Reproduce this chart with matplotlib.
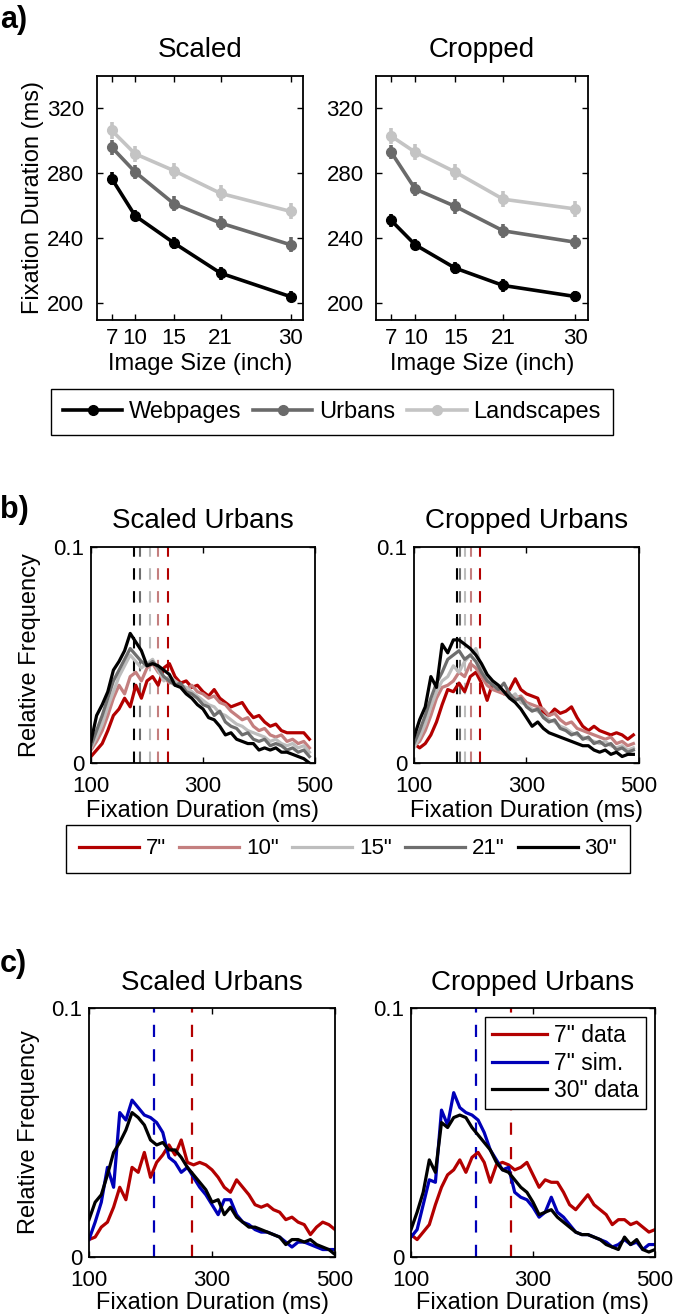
import numpy as np
import matplotlib.pyplot as plt

plt.rcParams['font.family'] = ['Liberation Sans', 'DejaVu Sans']

# ---- panel a: mean fixation duration (ms) per image size ----
sizes = [7, 10, 15, 21, 30]
scaled_web = [276.7, 253.8, 237.0, 218.4, 203.9]
scaled_urb = [296.0, 280.8, 261.2, 249.3, 235.9]
scaled_land = [306.4, 292.0, 281.6, 267.6, 256.5]
cropped_web = [250.9, 235.9, 221.5, 210.8, 204.0]
cropped_urb = [293.0, 270.3, 259.6, 244.5, 237.5]
cropped_land = [302.9, 293.0, 280.8, 264.0, 258.0]
err_web = [4.0, 3.5, 3.5, 4.0, 3.5]
err_urb = [4.5, 4.5, 4.5, 4.5, 4.5]
err_land = [5.0, 5.0, 5.0, 5.0, 5.0]

# ---- panel b: fixation duration histograms (relative frequency x 1000) ----
bins_b = [100, 110, 120, 130, 140, 150, 160, 170, 180, 190,
          200, 210, 220, 230, 240, 250, 260, 270, 280, 290,
          300, 310, 320, 330, 340, 350, 360, 370, 380, 390,
          400, 410, 420, 430, 440, 450, 460, 470, 480, 490]
size_labels = ['7"', '10"', '15"', '21"', '30"']

sc_7 = [3, 6, 9, 15, 22, 25, 30, 26, 36, 30, 38, 40, 36, 44, 46, 40, 37, 38, 35, 36,
        33, 31, 34, 30, 28, 26, 27, 28, 24, 21, 22, 19, 17, 18, 15, 14, 14, 14, 14, 11]
sc_10 = [6, 10, 15, 22, 30, 36, 32, 40, 42, 38, 44, 46, 42, 40, 37, 38, 36, 34, 36, 33,
         32, 30, 31, 28, 27, 24, 22, 20, 21, 17, 15, 16, 13, 12, 13, 10, 11, 9, 10, 7]
sc_15 = [7, 12, 18, 26, 33, 40, 45, 50, 47, 44, 46, 48, 43, 38, 40, 38, 36, 35, 33, 31,
         29, 27, 26, 23, 22, 20, 18, 17, 15, 14, 13, 12, 10, 11, 9, 8, 9, 7, 8, 5]
sc_21 = [8, 15, 22, 30, 38, 43, 48, 53, 50, 47, 45, 47, 44, 40, 38, 36, 37, 33, 32, 30,
         27, 26, 22, 24, 19, 17, 16, 13, 14, 11, 10, 11, 8, 9, 8, 6, 7, 5, 6, 3]
sc_30 = [10, 22, 27, 33, 43, 47, 52, 60, 56, 52, 45, 46, 45, 43, 41, 36, 35, 32, 30, 27,
         25, 21, 20, 17, 13, 14, 11, 10, 9, 9, 6, 7, 6, 7, 5, 5, 4, 3, 2, 0]

cr_7 = [9, 7, 9, 13, 19, 27, 34, 33, 37, 33, 40, 42, 37, 29, 37, 35, 32, 34, 39, 34,
        32, 31, 30, 23, 22, 25, 23, 24, 26, 21, 17, 15, 17, 15, 14, 13, 14, 13, 11, 13]
cr_10 = [8, 10, 15, 22, 30, 35, 36, 38, 42, 40, 46, 44, 40, 36, 34, 33, 32, 31, 30, 31,
         28, 27, 26, 25, 22, 23, 20, 18, 19, 16, 15, 14, 13, 12, 11, 12, 9, 10, 8, 9]
cr_15 = [7, 12, 18, 26, 33, 38, 40, 45, 42, 47, 50, 53, 44, 40, 37, 35, 33, 30, 32, 28,
         27, 25, 24, 22, 20, 19, 17, 16, 14, 13, 12, 11, 10, 9, 10, 8, 7, 8, 6, 7]
cr_21 = [9, 15, 22, 30, 37, 42, 48, 50, 52, 48, 50, 47, 42, 38, 36, 34, 37, 32, 29, 30,
         26, 24, 25, 21, 19, 20, 16, 15, 13, 14, 11, 12, 9, 10, 8, 9, 6, 7, 5, 6]
cr_30 = [12, 20, 26, 40, 35, 55, 51, 57, 57, 55, 53, 50, 46, 41, 38, 36, 33, 30, 28, 25,
         21, 17, 19, 16, 14, 13, 12, 11, 10, 9, 8, 8, 6, 5, 6, 4, 5, 3, 4, 4]

# dashed lines: medians (ms), order 7", 10", 15", 21", 30"
med_scaled = [237, 219, 205, 188, 177]
med_cropped = [217, 202, 190, 181, 176]

# ---- panel c: data vs simulation (relative frequency x 1000) ----
bins_c = [100, 110, 120, 130, 140, 150, 160, 170, 180, 190,
          200, 210, 220, 230, 240, 250, 260, 270, 280, 290,
          300, 310, 320, 330, 340, 350, 360, 370, 380, 390,
          400, 410, 420, 430, 440, 450, 460, 470, 480, 490, 500]
c_labels = ['7" data', '7" sim.', '30" data']

csc_7 = [7, 8, 12, 14, 20, 28, 23, 36, 34, 42, 32, 38, 41, 45, 41, 47, 38, 37, 38, 37,
         35, 32, 28, 26, 31, 28, 25, 21, 20, 21, 19, 18, 15, 16, 14, 13, 9, 12, 14, 13, 11]
csc_sim = [7, 14, 22, 36, 28, 58, 55, 63, 60, 57, 56, 54, 50, 40, 38, 34, 36, 32, 28, 25,
           21, 17, 23, 23, 17, 14, 13, 11, 10, 10, 9, 8, 6, 4, 6, 6, 5, 4, 3, 3, 3]
csc_30 = [15, 22, 25, 33, 42, 46, 51, 58, 56, 53, 47, 45, 46, 43, 43, 40, 36, 33, 30, 27,
          22, 23, 17, 20, 16, 14, 12, 12, 11, 10, 9, 8, 5, 7, 7, 6, 7, 5, 4, 3, 1]

ccr_7 = [9, 7, 10, 13, 21, 28, 33, 35, 39, 34, 40, 42, 38, 30, 37, 38, 37, 35, 36, 38,
         33, 28, 31, 30, 30, 26, 21, 19, 22, 25, 21, 19, 17, 13, 15, 15, 13, 14, 12, 10, 11]
ccr_sim = [8, 11, 21, 31, 30, 59, 53, 66, 60, 58, 57, 55, 50, 43, 39, 35, 36, 26, 24, 23,
           20, 16, 18, 24, 18, 16, 13, 10, 9, 9, 8, 7, 6, 4, 5, 7, 5, 6, 3, 5, 5]
ccr_30 = [11, 18, 26, 39, 34, 54, 52, 56, 57, 56, 52, 49, 46, 43, 38, 35, 34, 31, 28, 26,
          22, 17, 18, 19, 16, 14, 12, 10, 9, 9, 8, 7, 5, 4, 3, 8, 5, 7, 3, 2, 3]

med_c_scaled = [268, 205]   # 7" data, 7" sim.
med_c_cropped = [264, 206]

RED = '#b30000'
PINK = '#c47f7f'
LGRAY = '#bdbdbd'
DGRAY = '#6e6e6e'
BLUE = '#0000b8'
size_colors = [RED, PINK, LGRAY, DGRAY, 'black']
DASH = (0, (5.5, 5.5))

W, H = 675, 1315
fig = plt.figure(figsize=(W / 100, H / 100), dpi=100)


def box(x0, y0, x1, y1):
    return fig.add_axes([x0 / W, 1 - y1 / H, (x1 - x0) / W, (y1 - y0) / H])


def style(ax, ypad, xpad=6):
    ax.tick_params(direction='in', length=4, width=1, top=True, right=True,
                   labelsize=16)
    ax.tick_params(axis='y', pad=ypad)
    ax.tick_params(axis='x', pad=xpad)
    for s in ax.spines.values():
        s.set_linewidth(1.3)


def ptext(x, y, s, **kw):
    fig.text(x / W, 1 - y / H, s, **kw)


# ---------------- panel a ----------------
ax_a1 = box(97, 76, 303, 320)
ax_a2 = box(376, 76, 588, 320)
series_a = [
    (ax_a1, [scaled_web, scaled_urb, scaled_land]),
    (ax_a2, [cropped_web, cropped_urb, cropped_land]),
]
a_colors = ['black', '#6a6a6a', '#c4c4c4']
a_errs = [err_web, err_urb, err_land]
for ax, vals in series_a:
    handles = []
    for v, e, c in zip(vals[::-1], a_errs[::-1], a_colors[::-1]):
        ax.errorbar(sizes, v, yerr=e, fmt='none', ecolor=c, elinewidth=2.6, capsize=0)
        h, = ax.plot(sizes, v, color=c, lw=2.6, marker='o', ms=7)
        handles.append(h)
    ax.set_xlim(5.1, 31.6)
    ax.set_ylim(189.5, 340)
    ax.set_xticks(sizes)
    ax.set_yticks([200, 240, 280, 320])
    style(ax, 9)
    ax.set_xlabel('Image Size (inch)', fontsize=17)
    ax.xaxis.set_label_coords(0.5, (320 - 353) / 244)
ax_a1.set_ylabel('Fixation Duration (ms)', fontsize=17)
ax_a1.yaxis.set_label_coords((44 - 97) / 206, 0.5)
ptext(200, 57, 'Scaled', fontsize=20, ha='center', va='baseline')
ptext(482, 57, 'Cropped', fontsize=20, ha='center', va='baseline')
ptext(0, 28, 'a)', fontsize=22, fontweight='bold', ha='left', va='baseline')

leg_a = fig.legend(handles[::-1], ['Webpages', 'Urbans', 'Landscapes'], loc='center',
                   bbox_to_anchor=(332 / W, 1 - 412 / H), ncol=3, fontsize=17,
                   frameon=True, fancybox=False, edgecolor='black', framealpha=1,
                   handlelength=2.5, handletextpad=0.3, columnspacing=0.5,
                   borderpad=0.5)
leg_a.get_frame().set_linewidth(1.0)

# ---------------- panel b ----------------
ax_b1 = box(91, 547, 315, 763)
ax_b2 = box(414, 547, 639, 763)
series_b = [
    (ax_b1, [sc_7, sc_10, sc_15, sc_21, sc_30], med_scaled, 'Scaled Urbans', 203),
    (ax_b2, [cr_7, cr_10, cr_15, cr_21, cr_30], med_cropped, 'Cropped Urbans', 527),
]
for ax, curves, meds, title, tx in series_b:
    handles_b = []
    for m, c in zip(meds, size_colors):
        ax.axvline(m, color=c, lw=1.5, ls=DASH, zorder=1)
    for v, c in zip(curves, size_colors):
        h, = ax.plot(bins_b, np.array(v) / 1000, color=c, lw=2.3, zorder=2)
        handles_b.append(h)
    ax.set_xlim(100, 500)
    ax.set_ylim(0, 0.1)
    ax.set_xticks([100, 300, 500])
    ax.set_yticks([0, 0.1])
    ax.set_yticklabels(['0', '0.1'])
    style(ax, 5, 9)
    ax.set_xlabel('Fixation Duration (ms)', fontsize=17)
    ax.xaxis.set_label_coords(0.5, (763 - 800) / 216)
    ptext(tx, 528, title, fontsize=20, ha='center', va='baseline')
ax_b1.set_ylabel('Relative Frequency', fontsize=17)
ax_b1.yaxis.set_label_coords((41 - 91) / 224, 0.5)
ptext(0, 518, 'b)', fontsize=22, fontweight='bold', ha='left', va='baseline')

leg_b = fig.legend(handles_b, size_labels, loc='center',
                   bbox_to_anchor=(348 / W, 1 - 849 / H), ncol=5, fontsize=16,
                   frameon=True, fancybox=False, edgecolor='black', framealpha=1,
                   handlelength=2.7, handletextpad=0.3, columnspacing=0.6,
                   borderpad=0.6)
leg_b.get_frame().set_linewidth(1.0)

# ---------------- panel c ----------------
ax_c1 = box(89, 1008, 335, 1257)
ax_c2 = box(411, 1008, 655, 1257)
series_c = [
    (ax_c1, [csc_7, csc_sim, csc_30], med_c_scaled, 'Scaled Urbans', 212),
    (ax_c2, [ccr_7, ccr_sim, ccr_30], med_c_cropped, 'Cropped Urbans', 533),
]
c_colors = [RED, BLUE, 'black']
for ax, curves, meds, title, tx in series_c:
    for m, c in zip(meds, [RED, BLUE]):
        ax.axvline(m, color=c, lw=1.6, ls=DASH, zorder=1)
    handles_c = []
    for v, c in zip(curves, c_colors):
        h, = ax.plot(bins_c, np.array(v) / 1000, color=c, lw=2.3, zorder=2)
        handles_c.append(h)
    ax.set_xlim(100, 500)
    ax.set_ylim(0, 0.1)
    ax.set_xticks([100, 300, 500])
    ax.set_yticks([0, 0.1])
    ax.set_yticklabels(['0', '0.1'])
    style(ax, 5, 9)
    ax.set_xlabel('Fixation Duration (ms)', fontsize=17)
    ax.xaxis.set_label_coords(0.5, (1257 - 1292) / 249)
    ptext(tx, 990, title, fontsize=20, ha='center', va='baseline')
ax_c1.set_ylabel('Relative Frequency', fontsize=17)
ax_c1.yaxis.set_label_coords((40 - 89) / 246, 0.5)
ptext(0, 972, 'c)', fontsize=22, fontweight='bold', ha='left', va='baseline')

leg_c = ax_c2.legend(handles_c, c_labels, loc='upper right', fontsize=16.5,
                     frameon=True, fancybox=False, edgecolor='black', framealpha=1,
                     handlelength=2.4, handletextpad=0.3, labelspacing=0.2,
                     borderpad=0.3, borderaxespad=0.4)
leg_c.get_frame().set_linewidth(1.0)

fig.savefig('out.png', dpi=100, facecolor='white')
